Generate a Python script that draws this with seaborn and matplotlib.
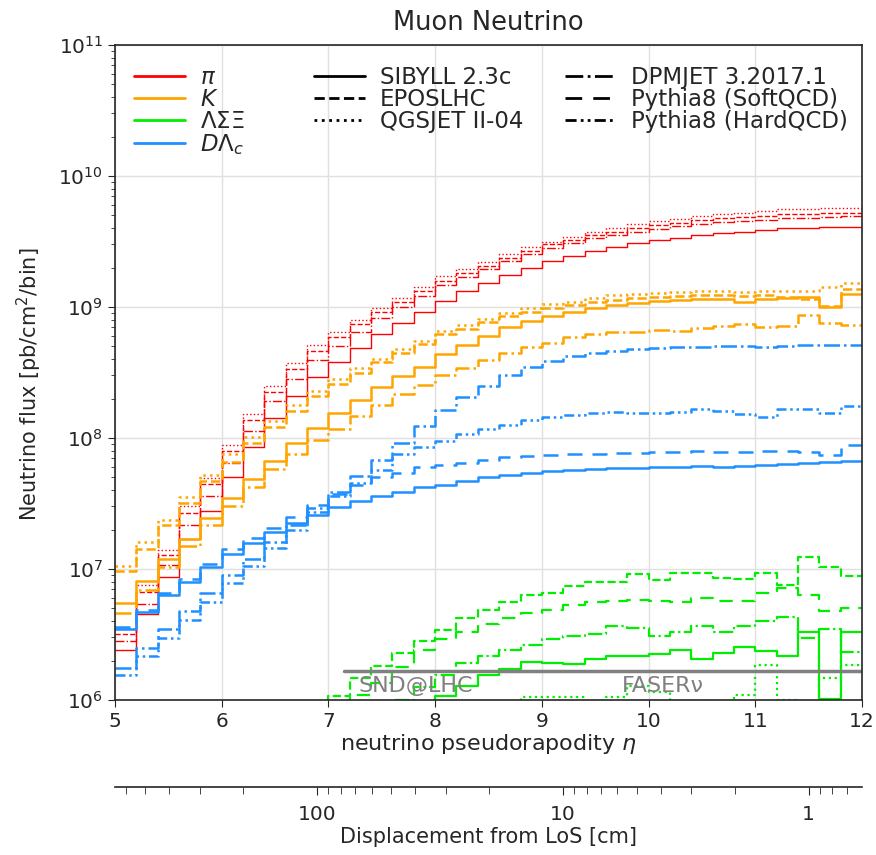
import numpy as np
import matplotlib
matplotlib.use("Agg")
import matplotlib.pyplot as plt
import matplotlib.ticker as mticker
from matplotlib.lines import Line2D
import seaborn as sns

# ---------------- data ----------------
eta_edges = np.linspace(5.0, 12.0, 36)   # 35 bins of width 0.2

# pions
pi_sibyll = [2.4e6, 4.5e6, 8.7e6, 1.68e7, 2.78e7, 5.0e7, 8.6e7, 1.41e8, 2.09e8, 2.9e8,
             3.8e8, 4.9e8, 6.2e8, 7.6e8, 9.2e8, 1.12e9, 1.32e9, 1.52e9, 1.75e9, 2.0e9,
             2.24e9, 2.45e9, 2.67e9, 2.85e9, 3.06e9, 3.24e9, 3.38e9, 3.55e9, 3.69e9, 3.76e9,
             3.87e9, 3.98e9, 4.0e9, 4.08e9, 4.1e9]
pi_epos = [3.2e6, 6.7e6, 1.27e7, 2.69e7, 4.45e7, 8.0e7, 1.38e8, 2.26e8, 3.34e8, 4.58e8,
           5.9e8, 7.35e8, 9.2e8, 1.1e9, 1.32e9, 1.59e9, 1.82e9, 2.07e9, 2.36e9, 2.68e9,
           3.0e9, 3.26e9, 3.52e9, 3.73e9, 4.0e9, 4.21e9, 4.39e9, 4.58e9, 4.76e9, 4.85e9,
           4.95e9, 5.09e9, 5.16e9, 5.22e9, 5.25e9]
pi_qgsjet = [3.5e6, 7.5e6, 1.39e7, 3.0e7, 4.95e7, 8.9e7, 1.53e8, 2.51e8, 3.72e8, 5.1e8,
             6.4e8, 7.9e8, 9.8e8, 1.18e9, 1.43e9, 1.72e9, 1.95e9, 2.22e9, 2.52e9, 2.86e9,
             3.16e9, 3.43e9, 3.74e9, 3.99e9, 4.28e9, 4.54e9, 4.73e9, 4.97e9, 5.17e9, 5.26e9,
             5.42e9, 5.57e9, 5.64e9, 5.7e9, 5.74e9]
pi_dpmjet = [2.8e6, 5.4e6, 1.07e7, 2.17e7, 3.59e7, 6.45e7, 1.14e8, 1.9e8, 2.82e8, 3.92e8,
             5.0e8, 6.47e8, 8.2e8, 1.0e9, 1.21e9, 1.48e9, 1.7e9, 1.95e9, 2.24e9, 2.54e9,
             2.84e9, 3.09e9, 3.34e9, 3.53e9, 3.76e9, 3.95e9, 4.12e9, 4.3e9, 4.46e9, 4.51e9,
             4.64e9, 4.78e9, 4.8e9, 4.9e9, 4.92e9]

# kaons
k_sibyll = [5.5e6, 8.1e6, 1.19e7, 1.7e7, 2.45e7, 3.5e7, 4.9e7, 6.7e7, 9.1e7, 1.2e8,
            1.55e8, 1.95e8, 2.43e8, 2.95e8, 3.5e8, 4.4e8, 5.1e8, 6.0e8, 7.0e8, 7.8e8,
            8.5e8, 9.2e8, 9.8e8, 1.04e9, 1.07e9, 1.11e9, 1.13e9, 1.16e9, 1.16e9, 1.09e9,
            1.16e9, 1.18e9, 1.2e9, 1.0e9, 1.25e9]
k_epos = [9.6e6, 1.43e7, 2.17e7, 3.17e7, 4.66e7, 6.6e7, 9.1e7, 1.21e8, 1.62e8, 2.09e8,
          2.57e8, 3.12e8, 3.77e8, 4.43e8, 5.18e8, 6.2e8, 6.78e8, 7.62e8, 8.54e8, 9.13e8,
          9.78e8, 1.03e9, 1.09e9, 1.14e9, 1.18e9, 1.19e9, 1.21e9, 1.23e9, 1.24e9, 1.22e9,
          1.23e9, 1.2e9, 1.15e9, 1.02e9, 1.38e9]
k_qgsjet = [1.05e7, 1.62e7, 2.38e7, 3.55e7, 5.2e7, 7.5e7, 1.02e8, 1.34e8, 1.77e8, 2.28e8,
            2.82e8, 3.4e8, 4.03e8, 4.78e8, 5.53e8, 6.5e8, 7.24e8, 8.1e8, 9.0e8, 9.8e8,
            1.05e9, 1.1e9, 1.17e9, 1.23e9, 1.25e9, 1.28e9, 1.3e9, 1.32e9, 1.33e9, 1.31e9,
            1.32e9, 1.33e9, 1.32e9, 1.42e9, 1.53e9]
k_dpmjet = [4.6e6, 6.9e6, 1.04e7, 1.5e7, 2.17e7, 3.0e7, 4.26e7, 5.75e7, 7.55e7, 9.6e7,
            1.18e8, 1.48e8, 1.78e8, 2.17e8, 2.55e8, 3.0e8, 3.44e8, 3.94e8, 4.43e8, 4.98e8,
            5.35e8, 5.93e8, 6.2e8, 6.4e8, 6.4e8, 6.7e8, 6.6e8, 6.9e8, 7.2e8, 7.4e8,
            7.0e8, 7.2e8, 8.7e8, 7.5e8, 7.3e8]

# hyperons (Lambda Sigma Xi)
hyp_sibyll = [1.0e5, 1.3e5, 1.7e5, 2.1e5, 2.6e5, 3.1e5, 3.7e5, 4.3e5, 5.0e5, 5.6e5,
              6.2e5, 6.8e5, 7.4e5, 8.0e5, 9.5e5, 1.08e6, 1.28e6, 1.55e6, 1.72e6, 1.95e6,
              1.93e6, 1.89e6, 2.07e6, 2.16e6, 2.16e6, 2.26e6, 2.4e6, 2.07e6, 2.3e6, 2.55e6,
              2.37e6, 2.16e6, 3.3e6, 1.02e6, 3.3e6]
hyp_epos = [1.5e5, 2.0e5, 2.6e5, 3.2e5, 3.9e5, 4.6e5, 5.4e5, 6.3e5, 7.2e5, 8.2e5,
            1.08e6, 1.46e6, 1.82e6, 2.3e6, 2.8e6, 3.45e6, 4.2e6, 4.9e6, 5.6e6, 6.3e6,
            6.6e6, 7.4e6, 7.9e6, 7.9e6, 9.1e6, 8.2e6, 9.3e6, 9.3e6, 8.5e6, 8.4e6,
            9.4e6, 7.6e6, 1.24e7, 1.03e7, 8.8e6]
hyp_qgsjet = [5.0e4, 6.0e4, 7.5e4, 9.0e4, 1.1e5, 1.3e5, 1.6e5, 1.9e5, 2.3e5, 2.7e5,
              3.2e5, 3.8e5, 4.5e5, 5.2e5, 6.0e5, 6.8e5, 7.5e5, 8.2e5, 8.8e5, 1.05e6,
              1.05e6, 1.05e6, 8.5e5, 1.05e6, 1.27e6, 1.15e6, 9.5e5, 9.8e5, 8.5e5, 1.1e6,
              1.85e6, 1.0e6, 8.0e5, 1.47e6, 1.85e6]
hyp_dpmjet = [8.0e4, 1.0e5, 1.3e5, 1.6e5, 2.0e5, 2.5e5, 3.0e5, 3.7e5, 4.5e5, 5.4e5,
              6.3e5, 7.3e5, 8.5e5, 1.0e6, 1.25e6, 1.55e6, 1.9e6, 2.15e6, 2.4e6, 2.65e6,
              2.9e6, 3.1e6, 3.2e6, 3.65e6, 3.55e6, 3.1e6, 3.3e6, 3.65e6, 3.3e6, 3.65e6,
              4.0e6, 4.3e6, 2.95e6, 3.5e6, 2.33e6]
hyp_py_soft = [1.0e5, 1.3e5, 1.7e5, 2.2e5, 2.8e5, 3.4e5, 4.1e5, 4.8e5, 5.6e5, 6.5e5,
               8.5e5, 1.1e6, 1.35e6, 1.8e6, 2.4e6, 2.9e6, 3.3e6, 3.8e6, 4.2e6, 4.6e6,
               4.9e6, 5.3e6, 5.6e6, 5.7e6, 5.8e6, 5.7e6, 5.6e6, 6.0e6, 5.7e6, 5.7e6,
               6.6e6, 7.2e6, 6.3e6, 4.8e6, 5.0e6]

# charm (D, Lambda_c)
c_sibyll = [3.5e6, 4.7e6, 6.3e6, 8.0e6, 1.03e7, 1.29e7, 1.57e7, 1.9e7, 2.24e7, 2.58e7,
            2.95e7, 3.3e7, 3.6e7, 3.9e7, 4.25e7, 4.4e7, 4.7e7, 5.0e7, 5.2e7, 5.4e7,
            5.6e7, 5.7e7, 5.8e7, 5.9e7, 5.95e7, 6.0e7, 6.0e7, 6.1e7, 6.05e7, 6.1e7,
            6.2e7, 6.3e7, 6.4e7, 6.5e7, 6.7e7]
c_py_soft = [3.6e6, 4.9e6, 6.5e6, 8.4e6, 1.1e7, 1.41e7, 1.72e7, 2.05e7, 2.5e7, 3.1e7,
             3.75e7, 4.4e7, 5.0e7, 5.4e7, 6.0e7, 6.2e7, 6.4e7, 6.8e7, 7.1e7, 7.3e7,
             7.4e7, 7.5e7, 7.6e7, 7.7e7, 7.7e7, 7.8e7, 7.8e7, 7.9e7, 7.8e7, 7.8e7,
             7.9e7, 8.0e7, 7.8e7, 7.4e7, 8.8e7]
c_dpmjet = [1.74e6, 2.48e6, 3.46e6, 4.8e6, 6.5e6, 9.0e6, 1.2e7, 1.6e7, 2.15e7, 2.9e7,
            3.85e7, 5.1e7, 6.8e7, 9.2e7, 1.23e8, 1.63e8, 2.07e8, 2.5e8, 3.0e8, 3.5e8,
            3.9e8, 4.25e8, 4.45e8, 4.6e8, 4.75e8, 4.85e8, 4.95e8, 4.95e8, 5.0e8, 5.0e8,
            4.95e8, 5.0e8, 5.1e8, 5.1e8, 5.1e8]
c_py_hard = [1.55e6, 2.17e6, 2.95e6, 4.1e6, 5.6e6, 7.8e6, 1.05e7, 1.45e7, 2.0e7, 2.7e7,
             3.6e7, 4.5e7, 5.7e7, 7.5e7, 8.6e7, 9.5e7, 1.08e8, 1.17e8, 1.25e8, 1.36e8,
             1.45e8, 1.5e8, 1.55e8, 1.57e8, 1.55e8, 1.55e8, 1.57e8, 1.65e8, 1.6e8, 1.53e8,
             1.45e8, 1.67e8, 1.67e8, 1.55e8, 1.75e8]

# detector acceptance marker
det_eta = [7.15, 12.0]
det_flux = [1.65e6, 1.65e6]
det_names = ["SND@LHC", "FASERν"]

particle_labels = ["$\\pi$", "$K$", "$\\Lambda\\Sigma\\Xi$", "$D\\Lambda_c$"]
generator_labels = ["SIBYLL 2.3c", "EPOSLHC", "QGSJET II-04",
                    "DPMJET 3.2017.1", "Pythia8 (SoftQCD)", "Pythia8 (HardQCD)"]
disp_ticks = [100, 10, 1]

# ---------------- style ----------------
sns.set_style("ticks")
plt.rcParams["font.family"] = ["DejaVu Sans"]
plt.rcParams["mathtext.fontset"] = "dejavusans"

RED, ORANGE, GREEN, BLUE = "#ff0000", "#ffa500", "#00ee00", "#1e90ff"
LS = {
    "sibyll": "-",
    "epos": (0, (3.7, 1.6)),
    "qgsjet": (0, (1, 1.65)),
    "dpmjet": (0, (6.4, 1.6, 1, 1.6)),
    "py_soft": (0, (6, 4)),
    "py_hard": (0, (4, 1.5, 1, 1.5, 1, 1.5)),
}

fig = plt.figure(figsize=(8.76, 8.55), dpi=100)
ax = fig.add_axes([0.1313, 0.1813, 0.8527, 0.7661])


def draw(vals, color, key, lw):
    y = list(vals) + [vals[-1]]
    sns.lineplot(x=eta_edges, y=y, color=color, linestyle=LS[key], linewidth=lw,
                 drawstyle="steps-post", estimator=None, errorbar=None, ax=ax)


draw(pi_sibyll, RED, "sibyll", 1.0)
draw(pi_epos, RED, "epos", 1.0)
draw(pi_qgsjet, RED, "qgsjet", 1.0)
draw(pi_dpmjet, RED, "dpmjet", 1.0)

draw(k_sibyll, ORANGE, "sibyll", 1.8)
draw(k_epos, ORANGE, "epos", 1.8)
draw(k_qgsjet, ORANGE, "qgsjet", 1.8)
draw(k_dpmjet, ORANGE, "dpmjet", 1.8)

draw(hyp_sibyll, GREEN, "sibyll", 1.6)
draw(hyp_epos, GREEN, "epos", 1.6)
draw(hyp_qgsjet, GREEN, "qgsjet", 1.6)
draw(hyp_dpmjet, GREEN, "dpmjet", 1.6)
draw(hyp_py_soft, GREEN, "py_soft", 1.6)

draw(c_sibyll, BLUE, "sibyll", 1.8)
draw(c_py_soft, BLUE, "py_soft", 1.8)
draw(c_dpmjet, BLUE, "dpmjet", 1.8)
draw(c_py_hard, BLUE, "py_hard", 1.8)

# detector line + labels
sns.lineplot(x=det_eta, y=det_flux, color="#808080", linewidth=2.5, ax=ax,
             estimator=None, errorbar=None)
ax.text(7.28, 1.27e6, det_names[0], color="#808080", fontsize=16, va="center")
ax.text(9.75, 1.27e6, det_names[1], color="#808080", fontsize=16, va="center")

ax.set_yscale("log")
ax.set_xlim(5, 12)
ax.set_ylim(1e6, 1e11)
ax.set_xticks(range(5, 13))
ax.grid(True, which="major", color="#e0e0e0", linewidth=1.0)
ax.set_axisbelow(True)
ax.tick_params(axis="both", which="major", labelsize=14.5, length=5)
ax.tick_params(axis="y", which="minor", length=3)
for sp in ax.spines.values():
    sp.set_linewidth(1.2)
ax.set_xlabel("neutrino pseudorapodity $\\eta$", fontsize=16, labelpad=1)
ax.set_ylabel("Neutrino flux [pb/cm$^2$/bin]", fontsize=15)
ax.yaxis.set_label_coords(-0.095, 0.482)
ax.set_title("Muon Neutrino", fontsize=18.5, pad=11)

# legends: particles (colour) and generators (line style)
colors = [RED, ORANGE, GREEN, BLUE]
p_handles = [Line2D([], [], color=c, lw=2.0) for c in colors]
leg1 = ax.legend(p_handles, particle_labels, frameon=False, loc="upper left",
                 bbox_to_anchor=(-0.0017, 0.999), fontsize=16.5, handlelength=2.2,
                 handletextpad=0.65, labelspacing=-0.05)
ax.add_artist(leg1)

gen_keys = ["sibyll", "epos", "qgsjet", "dpmjet", "py_soft", "py_hard"]
g_handles = [Line2D([], [], color="black", lw=2.0, linestyle=LS[k]) for k in gen_keys]
ax.legend(g_handles, generator_labels, ncol=2, frameon=False, loc="upper left",
          bbox_to_anchor=(0.2392, 0.999), fontsize=16.5, handlelength=2.2,
          handletextpad=0.65, columnspacing=1.85, labelspacing=-0.05)

# secondary displacement axis
C_ETA = 11.5
ax2 = fig.add_axes([0.1313, 0.0795, 0.8527, 0.0001])
ax2.set_xscale("log")
ax2.set_xlim(np.exp(C_ETA - 5.0), np.exp(C_ETA - 12.0))
for s in ["top", "left", "right"]:
    ax2.spines[s].set_visible(False)
ax2.spines["bottom"].set_linewidth(1.2)
ax2.set_yticks([])
ax2.xaxis.set_major_locator(mticker.FixedLocator(disp_ticks))
ax2.xaxis.set_major_formatter(mticker.FixedFormatter([str(t) for t in disp_ticks]))
ax2.xaxis.set_minor_locator(mticker.LogLocator(base=10, subs=np.arange(2, 10), numticks=20))
ax2.xaxis.set_minor_formatter(mticker.NullFormatter())
ax2.tick_params(axis="x", which="major", labelsize=14.5, length=6, pad=7)
ax2.tick_params(axis="x", which="minor", length=5)
ax2.set_xlabel("Displacement from LoS [cm]", fontsize=15, labelpad=2)

fig.savefig("out.png", dpi=100)
